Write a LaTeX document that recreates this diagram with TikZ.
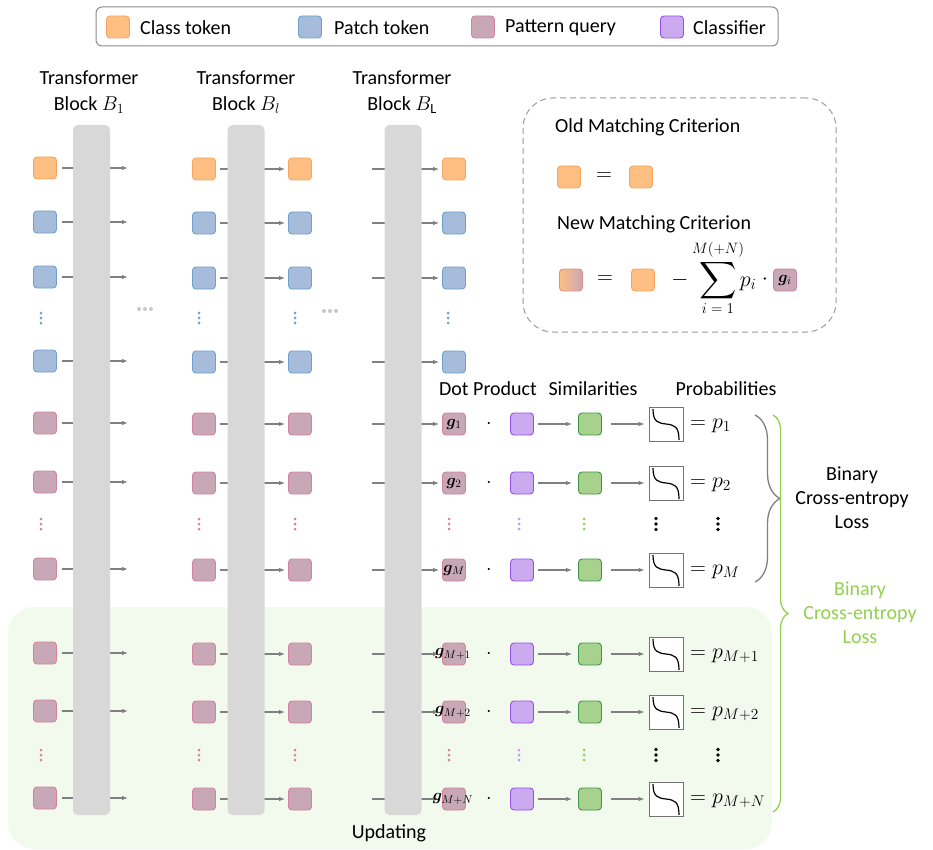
\RequirePackage{fix-cm}
\documentclass[tikz,border=0pt]{standalone}
\usepackage{amsmath,bm}
\usepackage{graphicx}
\usepackage{fontspec}
\setmainfont{Carlito}
\usetikzlibrary{arrows.meta,decorations.pathreplacing,calc}
\definecolor{clsfill}{RGB}{255,190,130}
\definecolor{clsdraw}{RGB}{245,165,95}
\definecolor{patfill}{RGB}{166,188,218}
\definecolor{patdraw}{RGB}{110,160,205}
\definecolor{pqfill}{RGB}{200,168,182}
\definecolor{pqdraw}{RGB}{210,130,155}
\definecolor{clffill}{RGB}{204,170,240}
\definecolor{clfdraw}{RGB}{150,80,230}
\definecolor{simfill}{RGB}{169,209,142}
\definecolor{simdraw}{RGB}{60,150,70}
\definecolor{barfill}{RGB}{216,216,216}
\definecolor{greenbg}{RGB}{242,249,237}
\definecolor{lossgreen}{RGB}{146,208,80}
\definecolor{arrgray}{RGB}{128,128,128}
\definecolor{ellgray}{RGB}{200,200,200}
\begin{document}
\begin{tikzpicture}[x=1pt,y=-1pt, font=\fontsize{20}{26}\selectfont,
 tok/.style={draw, line width=0.9pt, rounded corners=3.5pt, minimum width=23pt, minimum height=22pt, inner sep=0pt, font=\fontsize{16}{18}\selectfont},
 cls/.style={tok, fill=clsfill, draw=clsdraw},
 ptc/.style={tok, fill=patfill, draw=patdraw},
 pq/.style={tok, fill=pqfill, draw=pqdraw},
 clf/.style={tok, fill=clffill, draw=clfdraw},
 simb/.style={tok, fill=simfill, draw=simdraw},
 sig/.style={draw=black!55, line width=0.6pt, minimum width=34pt, minimum height=34pt, inner sep=0pt, fill=white},
 flow/.style={draw=arrgray, line width=1.1pt, -{Latex[length=6pt,width=4.5pt]}},
 bar/.style={fill=barfill, rounded corners=5pt, minimum width=37pt, minimum height=690pt, inner sep=0pt},
 txt/.style={inner sep=0pt, align=center},
 mth/.style={inner sep=0pt, font=\fontsize{22}{26}\selectfont},
 lim/.style={inner sep=0pt, font=\fontsize{15}{17}\selectfont}
]
\useasboundingbox (0,0) rectangle (933,850);

% green region
\fill[greenbg, rounded corners=26pt] (8,607) rectangle (772,849);

% legend
\node[draw=black!45, line width=1pt, rounded corners=6pt, minimum width=682pt, minimum height=39pt] (legend) at (437,26.5) {};
\node[cls] (lg1) at (118,27) {};
\node[txt, anchor=west] (lt1) at (140,28) {Class token};
\node[ptc] (lg2) at (310,27) {};
\node[txt, anchor=west] (lt2) at (334,28) {Patch token};
\node[pq] (lg3) at (483,27) {};
\node[txt, anchor=west] (lt3) at (505,28) {Pattern query};
\node[clf] (lg4) at (672,27) {};
\node[txt, anchor=west] (lt4) at (693,28) {Classifier};

% headers
\node[txt] (h1) at (89,92) {Transformer\\Block $B_1$};
\node[txt] (h2) at (246,92) {Transformer\\Block $B_l$};
\node[txt] (h3) at (402,92) {Transformer\\Block $B_{\mathrm{L}}$};

% token rows
\foreach \y/\t/\n in {168/cls/1, 222/ptc/2, 277/ptc/3, 361/ptc/4, 423/pq/5, 482/pq/6, 569/pq/7, 653/pq/8, 711/pq/9, 798/pq/10}{
  \node[\t] (a\n) at (45,\y) {};
  \node[\t] (b\n) at (204,\y+1) {};
  \node[\t] (c\n) at (300,\y+1) {};
  \coordinate (ae\n) at (128,\y);
  \coordinate (ds\n) at (372,\y+1);
  \draw[flow, shorten <=5pt] (a\n) -- (ae\n);
  \draw[flow, shorten <=4pt, shorten >=3pt] (b\n) -- (c\n);
}
\node[cls] (d1) at (454,169) {};
\node[ptc] (d2) at (454,223) {};
\node[ptc] (d3) at (454,278) {};
\node[ptc] (d4) at (454,362) {};
\node[pq] (d5) at (454,424) {$\bm{g}_1$};
\node[pq] (d6) at (454,483) {$\bm{g}_2$};
\node[pq] (d7) at (454,570) {$\bm{g}_M$};
\node[pq] (d8) at (454,654) {};
\node[pq] (d9) at (454,712) {};
\node[pq] (d10) at (454,799) {};
\foreach \n in {1,...,10}{
  \draw[flow, shorten >=3pt] (ds\n) -- (d\n);
}
\node[txt, font=\fontsize{16}{18}\selectfont] (l8) at (453,654) {$\bm{g}_{M+1}$};
\node[txt, font=\fontsize{16}{18}\selectfont] (l9) at (453,712) {$\bm{g}_{M+2}$};
\node[txt, font=\fontsize{16}{18}\selectfont] (l10) at (453,799) {$\bm{g}_{M+N}$};

% transformer bars
\node[bar] (bar1) at (91.5,470) {};
\node[bar] (bar2) at (246,470) {};
\node[bar] (bar3) at (403,470) {};

% vertical dots
\foreach \x/\y/\c in {41/318/patdraw, 199/318/patdraw, 295/318/patdraw, 448/318/patdraw,
  41/524/pqdraw, 199/524/pqdraw, 295/524/pqdraw, 449/524/pqdraw,
  41/755/pqdraw, 199/755/pqdraw, 295/755/pqdraw, 449/755/pqdraw,
  519/524/clffill!80!clfdraw, 584/524/lossgreen, 519/755/clffill!80!clfdraw, 584/755/lossgreen}{
  \foreach \k in {-5,0,5} \fill[\c] (\x,\y+\k) circle (1.5);
}
\foreach \x/\y in {656/524, 718/524, 656/755, 718/755}{
  \foreach \k in {-5.5,0,5.5} \fill[black] (\x,\y+\k) circle (1.8);
}
% horizontal ellipses
\foreach \x/\y in {145/309, 330/311}{
  \foreach \k in {-6,0,6} \fill[ellgray] (\x+\k,\y) circle (2);
}

% right headers
\node[txt] (hdp) at (488,389) {Dot Product};
\node[txt] (hsim) at (593,389) {Similarities};
\node[txt] (hprob) at (726,389) {Probabilities};

% classification rows
\foreach \n/\y/\p in {5/424/1, 6/483/2, 7/570/M, 8/654/{M+1}, 9/712/{M+2}, 10/799/{M+N}}{
  \node[txt] (dot\n) at (489,\y) {$\cdot$};
  \node[clf] (k\n) at (522,\y) {};
  \node[simb] (s\n) at (590,\y) {};
  \node[sig] (sg\n) at (666,\y) {};
  \draw[flow, shorten <=4pt, shorten >=6pt] (k\n) -- (s\n);
  \draw[flow, shorten <=9pt, shorten >=4pt] (s\n) -- (sg\n);
  \begin{scope}[shift={(sg\n.center)}]
    \draw[line width=1.2pt, black] (-13,-15) .. controls (-13,-2) and (-8,-1) .. (0,0) .. controls (8,1) and (13,2) .. (13,16);
  \end{scope}
  \node[mth, anchor=west] (pv\n) at (690,\y+2) {$=p_{\p}$};
}

% braces
\coordinate (gb1) at (755,415);
\coordinate (gb2) at (755,582);
\draw[decorate, decoration={brace, amplitude=25pt}, draw=black!50, line width=1.3pt] (gb1) -- (gb2);
\node[txt, font=\fontsize{20}{24}\selectfont] (loss1) at (852,498) {Binary\\Cross-entropy\\Loss};
\coordinate (lb1) at (773,415);
\coordinate (lb2) at (773,812);
\draw[decorate, decoration={brace, amplitude=15pt}, draw=lossgreen, line width=1.3pt] (lb1) -- (lb2);
\node[txt, text=lossgreen, font=\fontsize{20}{24}\selectfont] (loss2) at (860,613) {Binary\\Cross-entropy\\Loss};

\node[txt] (upd) at (389,833) {Updating};

% matching criterion box
\node[draw=black!40, dashed, dash pattern=on 6pt off 4pt, line width=1pt, rounded corners=30pt, minimum width=313pt, minimum height=234pt] (mbox) at (679.5,215) {};
\node[txt, anchor=west] (old) at (555,127) {Old Matching Criterion};
\node[cls] (o1) at (569,177) {};
\node[mth] (oeq) at (604,177) {$=$};
\node[cls] (o2) at (641,177) {};
\node[txt, anchor=west] (new) at (557,224) {New Matching Criterion};
\node[tok, left color=clsfill, right color=pqfill, draw=pqdraw!60!clsdraw] (n1) at (571,280) {};
\node[mth] (neq) at (605,280) {$=$};
\node[cls] (n2) at (643,280) {};
\node[mth] (nminus) at (680,280) {$-$};
\node[inner sep=0pt] (nsum) at (718,281) {\scalebox{1.25}{$\displaystyle\sum$}};
\node[lim] (nsup) at (718,250) {$M(+N)$};
\node[lim] (nsub) at (718,309) {$i=1$};
\node[mth] (np) at (748,284) {$p_i$};
\node[mth] (ndot) at (765,280) {$\cdot$};
\node[pq] (n3) at (785,280) {$\bm{g}_i$};
\end{tikzpicture}
\end{document}
